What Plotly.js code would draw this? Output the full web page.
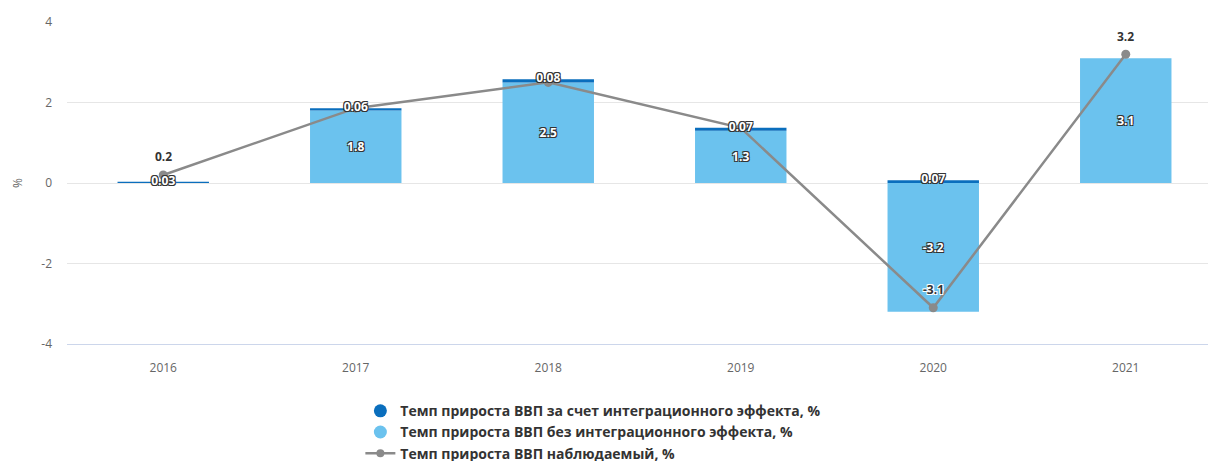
<!DOCTYPE html>
<html><head><meta charset="utf-8">
<script src="https://cdn.plot.ly/plotly-3.0.1.min.js"></script>
<style>html,body{margin:0;padding:0;overflow:hidden;background:#fff;width:1208px;height:461px}</style>
</head><body><div id="chart"></div>
<script>
const years = ['2016','2017','2018','2019','2020','2021'];
const integration = [0.03, 0.06, 0.08, 0.07, 0.07, null];
const withoutIntegration = [null, 1.8, 2.5, 1.3, -3.2, 3.1];
const observed = [0.2, 1.86, 2.5, 1.37, -3.1, 3.2];
const observedLabelShown = [true, false, false, false, true, true];
const names = ['Темп прироста ВВП за счет интеграционного эффекта, %',
               'Темп прироста ВВП без интеграционного эффекта, %',
               'Темп прироста ВВП наблюдаемый, %'];
const yTicks = [-4, -2, 0, 2, 4];

const DARK = '#0A6EBD', LIGHT = '#6BC2EE', GREY = '#8a8a8a';
const FONT = 'Open Sans, DejaVu Sans, sans-serif';
const whiteOutline = '-1px -1px 0 #333, 1px -1px 0 #333, -1px 1px 0 #333, 1px 1px 0 #333';
const darkOutline = '-1px -1px 0 #fff, 1px -1px 0 #fff, -1px 1px 0 #fff, 1px 1px 0 #fff';

const stackTop = years.map((y,i)=> (withoutIntegration[i] > 0 ? withoutIntegration[i] : 0) + (integration[i] || 0));

const traces = [
  {type:'bar', x: years, y: withoutIntegration, marker:{color: LIGHT}, width: 0.475,
   text: withoutIntegration.map(v => v == null ? '' : v.toFixed(1)), textposition:'inside',
   insidetextanchor:'middle', textangle:0, constraintext:'none',
   textfont:{family: FONT, size: 12, color:'#fff', weight:'bold', shadow: whiteOutline},
   showlegend:false, hoverinfo:'skip'},
  {type:'bar', x: years, y: integration, marker:{color: DARK}, width: 0.475,
   showlegend:false, hoverinfo:'skip'},
  {type:'scatter', mode:'lines+markers', x: years, y: observed, name: names[2],
   line:{color: GREY, width: 2.5}, marker:{color: GREY, size: 9},
   hoverinfo:'skip', showlegend:false},
  {type:'scatter', mode:'text', x: years, y: stackTop.map((v,i)=> integration[i]==null ? null : v),
   text: integration.map(v => v == null ? '' : v.toFixed(2)),
   textposition:'middle center',
   textfont:{family: FONT, size: 12, color:'#fff', weight:'bold', shadow: whiteOutline},
   showlegend:false, hoverinfo:'skip'},
  {type:'scatter', mode:'markers', x:[null], y:[null], name: names[0], legendgroup:'a',
   marker:{color: DARK, size: 13, symbol:'circle'}},
  {type:'scatter', mode:'markers', x:[null], y:[null], name: names[1], legendgroup:'b',
   marker:{color: LIGHT, size: 13, symbol:'circle'}},
  {type:'scatter', mode:'lines+markers', x:[null], y:[null], name: names[2], legendgroup:'c',
   line:{color: GREY, width: 2.5}, marker:{color: GREY, size: 8}}
];

const annotations = years.map((y,i)=> observedLabelShown[i] ? {
  x: i, y: observed[i], xref:'x', yref:'y', text: observed[i].toFixed(1), showarrow:false,
  yshift: 18, font:{family: FONT, size: 12, color:'#333', weight:'bold', shadow: darkOutline}
} : null).filter(a => a);

const layout = {
  width: 1225, height: 461,
  margin:{l:67, r:3, t:22, b:117, autoexpand:false},
  paper_bgcolor:'#fff', plot_bgcolor:'#fff',
  barmode:'relative', bargap: 0.5,
  font:{family: FONT, color:'#666', size: 12},
  annotations: annotations,
  xaxis:{type:'category', range:[-0.5, years.length - 0.5], showgrid:false, zeroline:false, showline:true,
         linecolor:'#ccd6eb', linewidth:1,
         ticks:'', tickfont:{size:12, color:'#666'}, ticklabelstandoff: 13, fixedrange:true, automargin:false},
  yaxis:{range:[-4, 4], tickvals: yTicks, ticktext: yTicks.map(String), showgrid:true, gridcolor:'#e6e6e6',
         zeroline:false, showline:false, ticks:'', ticklabelstandoff: 14, automargin:false,
         tickfont:{size:12, color:'#666'},
         title:{text:'%', font:{size:12, color:'#666'}, standoff: 16}, fixedrange:true},
  legend:{orientation:'v', x: 0.254, xanchor:'left', y: -0.159, yanchor:'top',
          font:{family: FONT, size: 14, color:'#333', weight:'bold'}, tracegroupgap: 0,
          itemwidth: 30, bgcolor:'rgba(0,0,0,0)'},
  showlegend:true
};

Plotly.newPlot('chart', traces, layout, {displayModeBar:false, staticPlot:true});
</script></body></html>
